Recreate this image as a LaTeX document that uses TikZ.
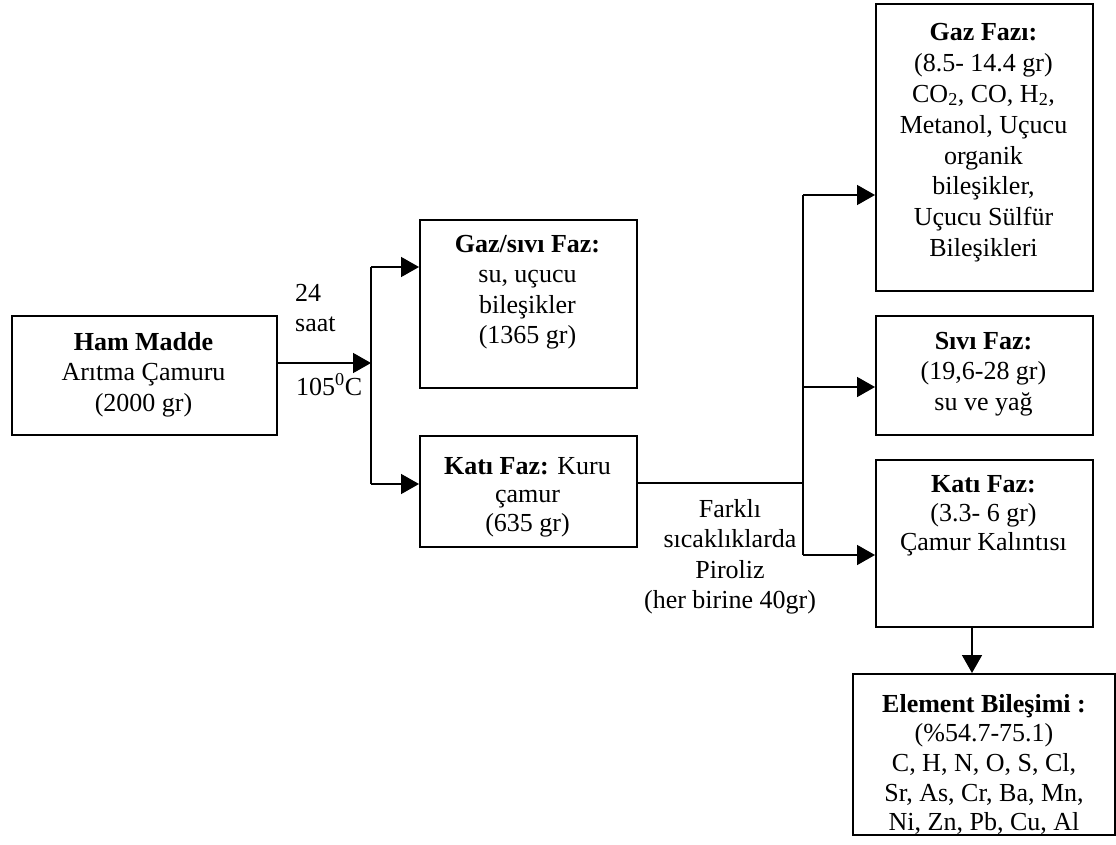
\documentclass[tikz,border=0pt]{standalone}
\usepackage{fontspec}
\setmainfont{Liberation Serif}
\usetikzlibrary{arrows.meta}
\begin{document}
\begin{tikzpicture}[x=1pt,y=-1pt,
  box/.style={draw,line width=1.6pt,inner sep=0pt,anchor=north west},
  txt/.style={align=center,inner sep=0pt,anchor=north},
  lbl/.style={inner sep=0pt},
  flow/.style={line width=1.6pt},
  arr/.style={flow,-{Triangle[length=18pt,width=20pt]}},
  every node/.append style={font=\fontsize{26}{30.5}\selectfont},
]
\useasboundingbox (0,0) rectangle (1116,845);

% boxes
\node[box,minimum width=265pt,minimum height=119pt] (ham) at (11,315) {};
\node[box,minimum width=217pt,minimum height=168pt] (gs)  at (419,219) {};
\node[box,minimum width=217pt,minimum height=111pt] (km)  at (419,435) {};
\node[box,minimum width=217pt,minimum height=287pt] (gf)  at (875,3) {};
\node[box,minimum width=217pt,minimum height=119pt] (sf)  at (875,315) {};
\node[box,minimum width=217pt,minimum height=167pt] (kf)  at (875,459) {};
\node[box,minimum width=262pt,minimum height=161pt] (el)  at (852,673) {};

% box contents
\node[txt] (hamT) at (143.5,332) {\textbf{Ham Madde}\\Arıtma Çamuru\\(2000 gr)};
\node[txt] (gsT) at (527.5,235) {\textbf{Gaz/sıvı Faz:}\\su, uçucu\\bileşikler\\(1365 gr)};
\node[txt,font=\fontsize{26}{28.5}\selectfont] (kmT) at (527.5,457) {\textbf{Katı Faz:} Kuru\\çamur\\(635 gr)};
\node[txt,font=\fontsize{26}{30.9}\selectfont] (gfT) at (983.5,23) {\textbf{Gaz Fazı:}\\(8.5- 14.4 gr)\\CO\textsubscript{2}, CO, H\textsubscript{2},\\Metanol, Uçucu\\organik\\bileşikler,\\Uçucu Sülfür\\Bileşikleri};
\node[txt] (sfT) at (983.5,332) {\textbf{Sıvı Faz:}\\(19,6-28 gr)\\su ve yağ};
\node[txt,font=\fontsize{26}{29}\selectfont] (kfT) at (983.5,475) {\textbf{Katı Faz:}\\(3.3- 6 gr)\\Çamur Kalıntısı};
\node[txt,font=\fontsize{26}{29.6}\selectfont] (elT) at (984,694) {\textbf{Element Bileşimi :}\\(\%54.7-75.1)\\C, H, N, O, S, Cl,\\Sr, As, Cr, Ba, Mn,\\Ni, Zn, Pb, Cu, Al};

% branch points
\coordinate (j1)  at (371,363);
\coordinate (j1a) at (371,267);
\coordinate (j1b) at (371,484);
\coordinate (j2)  at (803,483);
\coordinate (j2a) at (803,195);
\coordinate (j2b) at (803,387);
\coordinate (j2c) at (803,555);
\coordinate (dn)  at (972,0);

% drying step
\draw[arr] (ham.east |- j1) -- (j1);
\draw[flow] (j1a) -- (j1b);
\draw[arr] (j1a) -- (gs.west |- j1a);
\draw[arr] (j1b) -- (km.west |- j1b);

% pyrolysis step
\draw[flow] (km.east |- j2) -- (j2);
\draw[flow] (j2a) -- (j2c);
\draw[arr] (j2a) -- (gf.west |- j2a);
\draw[arr] (j2b) -- (sf.west |- j2b);
\draw[arr] (j2c) -- (kf.west |- j2c);
\draw[arr] (kf.south -| dn) -- (el.north -| dn);

% step labels
\node[lbl,align=left,anchor=north west] (t24) at (295,284) {24\\saat};
\node[lbl,anchor=base west] (t105) at (296,395) {105\textsuperscript{0}C};
\node[lbl,align=center,anchor=north] (pir) at (730,499) {Farklı\\sıcaklıklarda\\Piroliz\\(her birine 40gr)};
\end{tikzpicture}
\end{document}
